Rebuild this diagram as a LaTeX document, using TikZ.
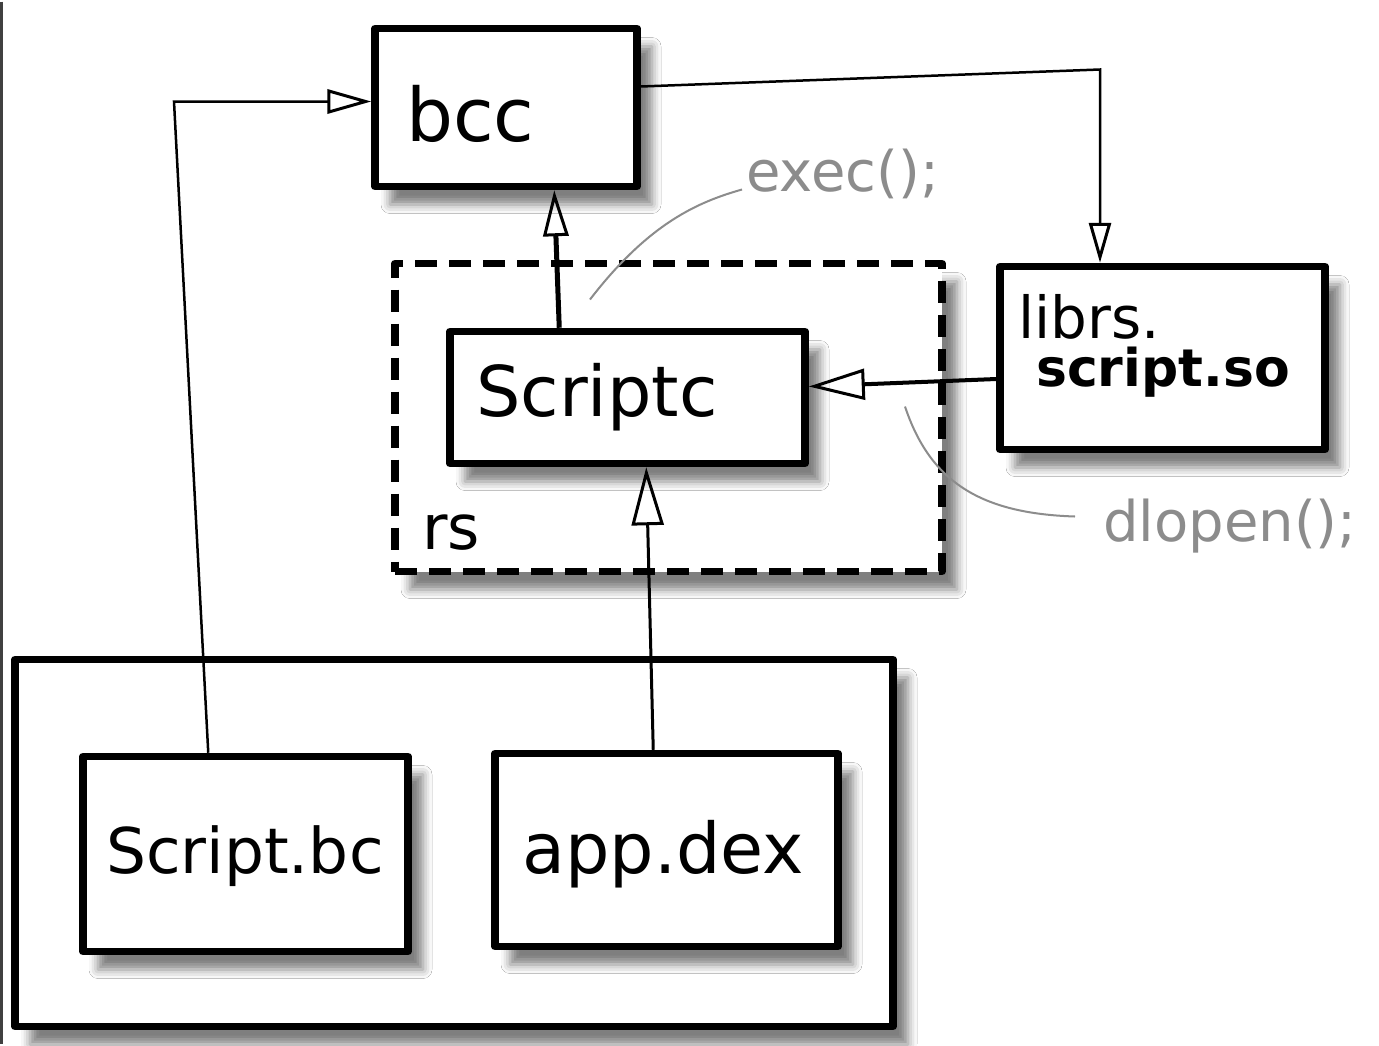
\documentclass[tikz,border=0pt]{standalone}
\usepackage{fontspec}
\setmainfont{DejaVu Sans}
\usetikzlibrary{arrows.meta,shadows.blur,calc}
\definecolor{note}{HTML}{8C8C8C}
\begin{document}
\begin{tikzpicture}[x=1pt,y=-1pt,
  box/.style={draw=black, line width=7.5pt, fill=white, line join=round, line cap=round,
    rectangle, inner sep=0pt,
    blur shadow={shadow xshift=15pt, shadow yshift=-18pt, shadow blur radius=9pt, shadow opacity=50}},
  groupbox/.style={box, dash pattern=on 22pt off 12pt, line cap=butt},
  txt/.style={inner sep=0pt, anchor=base west, text=black},
  notetxt/.style={txt, text=note, font=\fontsize{56}{60}\selectfont},
  notecurve/.style={draw=note, line width=2pt},
  link/.style={draw=black, line width=2.5pt},
  opentip/.style={-{Triangle[open, length=#1, width=0.55*#1, line width=3pt]}},
]
% page
\path[fill=white] (0,0) rectangle (1379,1042);
\draw[line width=3pt, black!75] (1.5,0) -- (1.5,1042);

% application package with its two files
\node[box, minimum width=878pt, minimum height=367pt] (pkg) at (454,841.5) {};
\node[box, minimum width=325pt, minimum height=195pt] (bc) at (245.5,852.5) {};
\node[box, minimum width=343pt, minimum height=193pt] (dex) at (666.5,848.5) {};
\node[txt, font=\fontsize{63}{70}\selectfont] (bct) at (106,872) {Script.bc};
\node[txt, font=\fontsize{70}{76}\selectfont] (dext) at (522,872) {app.dex};

% rs runtime group
\node[groupbox, minimum width=547pt, minimum height=308pt] (rs) at (668.5,416) {};
\node[txt, font=\fontsize{62}{70}\selectfont] (rst) at (422,548) {rs};
\node[box, minimum width=355pt, minimum height=132pt] (sc) at (627.5,396) {};
\node[txt, font=\fontsize{70}{76}\selectfont] (sct) at (476,415) {Scriptc};

% compiler and generated library
\node[box, minimum width=262pt, minimum height=158pt] (bcc) at (506,106) {};
\node[txt, font=\fontsize{74}{80}\selectfont] (bcct) at (406,140) {bcc};
\node[box, minimum width=325pt, minimum height=183pt] (lib) at (1162.5,356.5) {};
\node[txt, font=\fontsize{58}{60}\selectfont] (libt1) at (1018,337) {librs.};
\node[txt, font=\bfseries\fontsize{52}{60}\selectfont] (libt2) at (1036,385) {script.so};

% connectors
\coordinate (c1) at (174,100);
\coordinate (c2) at (1100,68);
\draw[link, opentip=44pt] ($(bc.north west)+(129,0)$) -- (c1) -- (c1 -| bcc.west);
\draw[link, opentip=40pt] ($(bcc.east)+(0,-21)$) -- (c2) -- (c2 |- lib.north);
\draw[link, line width=5pt, opentip=46pt] ($(sc.north west)+(113,0)$) -- ($(bcc.south west)+(183,0)$);
\draw[link, line width=4pt, opentip=56pt] ($(lib.west)+(0,21)$) -- ($(sc.east)+(0,-11)$);
\draw[link, line width=3pt, opentip=58pt] ($(dex.north west)+(162,0)$) -- ($(sc.south west)+(200,0)$);

% call annotations
\node[notetxt] (exect) at (746,190) {exec();};
\draw[notecurve] (590,298) .. controls (650,220) and (700,200) .. (742,188);
\node[notetxt, font=\fontsize{56}{60}\selectfont] (dlt) at (1103,540) {dlopen();};
\draw[notecurve] (905,405) .. controls (930,480) and (980,512) .. (1075,515);
\end{tikzpicture}
\end{document}
